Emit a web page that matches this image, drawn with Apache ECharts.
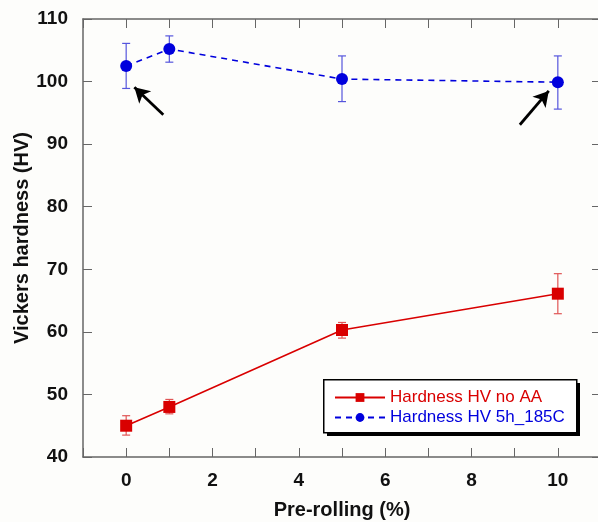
<!DOCTYPE html>
<html>
<head>
<meta charset="utf-8">
<script src="https://cdn.jsdelivr.net/npm/echarts@6/dist/echarts.min.js"></script>
<style>
  html, body { margin: 0; padding: 0; background: #fdfdfb; }
  #chart { width: 598px; height: 522px; }
</style>
</head>
<body>
<div id="chart"></div>
<script>
// pre-rolling amount (%)
var rolling = [0, 1, 5, 10];
// hardness, no artificial ageing
var hvNoAA = [45.0, 48.0, 60.3, 66.1];
var hvNoAALow = [43.5, 46.9, 59.0, 62.9];
var hvNoAAHigh = [46.6, 49.2, 61.5, 69.3];
// hardness, 5h at 185C
var hvAged = [102.5, 105.2, 100.4, 99.9];
var hvAgedLow = [98.9, 103.1, 96.8, 95.6];
var hvAgedHigh = [106.1, 107.3, 104.1, 104.1];
// arrows pointing at the aged points: [fromX, fromY, toX, toY]
var arrows = [
  [0.86, 94.7, 0.19, 99.1],
  [9.12, 93.1, 9.79, 98.5]
];

var chart = echarts.init(document.getElementById('chart'));

function pairs(ys) {
  return rolling.map(function (x, i) { return [x, ys[i]]; });
}
function bars(lo, hi) {
  return rolling.map(function (x, i) { return [x, lo[i], hi[i]]; });
}
function errorBar(color) {
  return function (params, api) {
    var x = api.value(0);
    var lo = api.coord([x, api.value(1)]);
    var hi = api.coord([x, api.value(2)]);
    var w = 4;
    var st = { stroke: color, lineWidth: 1.2 };
    return {
      type: 'group',
      children: [
        { type: 'line', shape: { x1: lo[0], y1: lo[1], x2: hi[0], y2: hi[1] }, style: st },
        { type: 'line', shape: { x1: lo[0] - w, y1: lo[1], x2: lo[0] + w, y2: lo[1] }, style: st },
        { type: 'line', shape: { x1: hi[0] - w, y1: hi[1], x2: hi[0] + w, y2: hi[1] }, style: st }
      ]
    };
  };
}

var red = '#d90000';
var blue = '#0000dd';
var axisCol = '#666666';
var font = 'Liberation Sans, Arial, sans-serif';

var option = {
  backgroundColor: '#fdfdfb',
  animation: false,
  grid: { left: 83, top: 19, right: -3, bottom: 65, outerBoundsMode: 'none', containLabel: false },
  // legend frame with its hard drop shadow
  graphic: [
    { type: 'rect', left: 327, top: 383, shape: { width: 253, height: 53 },
      style: { fill: '#000' }, z: 10 },
    { type: 'rect', left: 323, top: 379, shape: { width: 253, height: 53 },
      style: { fill: '#fff', stroke: '#000', lineWidth: 1.5 }, z: 11 }
  ],
  legend: {
    orient: 'vertical',
    left: 324,
    top: 387,
    z: 20,
    padding: [2, 10, 2, 10],
    itemGap: 3,
    itemWidth: 50,
    itemHeight: 11,
    textStyle: { fontFamily: font, fontSize: 17 },
    data: [
      { name: 'Hardness HV no AA', textStyle: { color: red } },
      { name: 'Hardness HV 5h_185C', textStyle: { color: blue } }
    ]
  },
  xAxis: [{
    type: 'value',
    min: -1, max: 11, interval: 1,
    name: 'Pre-rolling (%)',
    nameLocation: 'middle',
    nameGap: 43,
    nameMoveOverlap: false,
    nameTextStyle: { fontFamily: font, fontSize: 20, fontWeight: 'bold', color: '#111' },
    axisLine: { onZero: false, lineStyle: { color: axisCol, width: 1.5 } },
    axisTick: { inside: true, length: 9, lineStyle: { color: axisCol } },
    axisLabel: {
      margin: 14, fontFamily: font, fontSize: 19, fontWeight: 'bold', color: '#111',
      formatter: function (v) { return (v >= 0 && v <= 10 && v % 2 === 0) ? String(v) : ''; }
    },
    splitLine: { show: false }
  }, {
    type: 'value',
    position: 'top',
    min: -1, max: 11, interval: 1,
    axisLine: { onZero: false, lineStyle: { color: axisCol, width: 1.5 } },
    axisTick: { inside: true, length: 9, lineStyle: { color: axisCol } },
    axisLabel: { show: false },
    splitLine: { show: false }
  }],
  yAxis: [{
    type: 'value',
    min: 40, max: 110, interval: 10,
    name: 'Vickers hardness (HV)',
    nameLocation: 'middle',
    nameRotate: 90,
    nameGap: 51,
    nameMoveOverlap: false,
    nameTextStyle: { fontFamily: font, fontSize: 20, fontWeight: 'bold', color: '#111' },
    axisLine: { onZero: false, lineStyle: { color: axisCol, width: 1.5 } },
    axisTick: { inside: true, length: 9, lineStyle: { color: axisCol } },
    axisLabel: { margin: 15, fontFamily: font, fontSize: 19, fontWeight: 'bold', color: '#111' },
    splitLine: { show: false }
  }, {
    type: 'value',
    position: 'right',
    min: 40, max: 110, interval: 10,
    axisLine: { show: true, onZero: false, lineStyle: { color: axisCol, width: 1.5 } },
    axisTick: { inside: true, length: 9, lineStyle: { color: axisCol } },
    axisLabel: { show: false },
    splitLine: { show: false }
  }],
  series: [
    {
      type: 'custom',
      name: 'errNoAA',
      renderItem: errorBar('#e05555'),
      data: bars(hvNoAALow, hvNoAAHigh),
      encode: { x: 0, y: [1, 2] },
      silent: true, z: 1
    },
    {
      type: 'custom',
      name: 'errAged',
      renderItem: errorBar('#5555dd'),
      data: bars(hvAgedLow, hvAgedHigh),
      encode: { x: 0, y: [1, 2] },
      silent: true, z: 1
    },
    {
      type: 'line',
      name: 'Hardness HV no AA',
      data: pairs(hvNoAA),
      symbol: 'rect',
      symbolSize: 12,
      itemStyle: { color: red },
      lineStyle: { color: red, width: 1.6 },
      z: 3
    },
    {
      type: 'line',
      name: 'Hardness HV 5h_185C',
      data: pairs(hvAged),
      symbol: 'circle',
      symbolSize: 12,
      itemStyle: { color: blue },
      lineStyle: { color: blue, width: 1.6, type: [6, 5] },
      z: 3,
      markLine: {
        silent: true,
        symbol: ['none', 'arrow'],
        symbolSize: [13, 15],
        label: { show: false },
        lineStyle: { color: '#000', width: 2.8, type: 'solid' },
        data: arrows.map(function (a) {
          return [{ coord: [a[0], a[1]] }, { coord: [a[2], a[3]] }];
        })
      }
    }
  ]
};

chart.setOption(option);
</script>
</body>
</html>
